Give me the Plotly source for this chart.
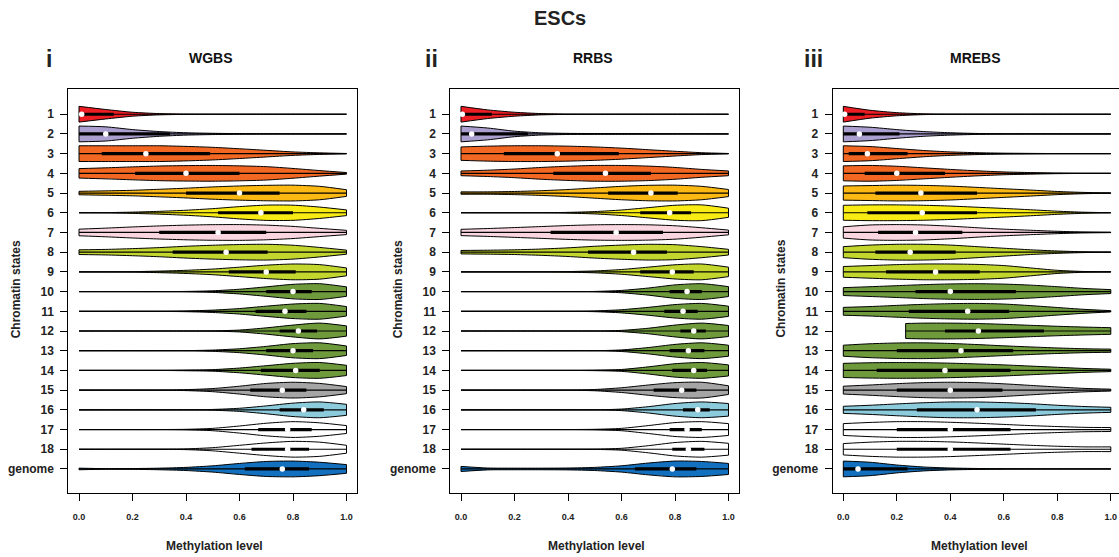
import plotly.graph_objects as go

# ---------------- data ----------------
STATES = [str(i) for i in range(1, 19)] + ["genome"]
COLORS = ["#EE1D23", "#AA9FCF", "#F26722", "#F26722", "#FCB813", "#F8EC14",
          "#F9D6E0", "#C2D62E", "#C2D62E", "#6E9A3C", "#6E9A3C", "#6E9A3C",
          "#6E9A3C", "#6E9A3C", "#A5A5A5", "#8CCBDC", "#FFFFFF", "#FFFFFF",
          "#1270BE"]
# density grid (index 0 is the violin's lower limit, the rest are 0.1 .. 1.0)
GRID = [0.0, 0.1, 0.2, 0.3, 0.4, 0.5, 0.6, 0.7, 0.8, 0.9, 1.0]
XTICKS = [0.0, 0.2, 0.4, 0.6, 0.8, 1.0]

WGBS_DENS = [
    [1.0, 0.6, 0.25, 0.08, 0.02, 0, 0, 0, 0, 0, 0],
    [1.0, 0.9, 0.55, 0.3, 0.15, 0.08, 0.04, 0.01, 0, 0, 0],
    [1.0, 1.0, 1.0, 1.0, 0.92, 0.8, 0.62, 0.42, 0.22, 0.1, 0.02],
    [0.6, 0.7, 0.82, 0.93, 0.98, 1.0, 0.95, 0.85, 0.62, 0.35, 0.1],
    [0.22, 0.28, 0.35, 0.48, 0.62, 0.78, 0.9, 0.98, 1.0, 0.85, 0.42],
    [0.0, 0.02, 0.08, 0.18, 0.32, 0.52, 0.78, 0.97, 0.96, 0.72, 0.36],
    [0.42, 0.55, 0.7, 0.83, 0.93, 0.99, 1.0, 0.93, 0.77, 0.52, 0.27],
    [0.3, 0.35, 0.45, 0.58, 0.75, 0.88, 0.97, 1.0, 0.88, 0.6, 0.26],
    [0.0, 0.0, 0.03, 0.1, 0.2, 0.36, 0.6, 0.85, 1.0, 0.92, 0.5],
    [0, 0, 0, 0, 0.02, 0.1, 0.3, 0.6, 0.92, 1.0, 0.6],
    [0, 0, 0, 0.01, 0.05, 0.15, 0.35, 0.65, 0.92, 1.0, 0.6],
    [0, 0, 0, 0, 0, 0.02, 0.12, 0.4, 0.75, 1.0, 0.65],
    [0, 0, 0, 0, 0.01, 0.08, 0.25, 0.55, 0.9, 1.0, 0.6],
    [0, 0, 0, 0, 0.04, 0.1, 0.3, 0.6, 0.9, 1.0, 0.65],
    [0, 0, 0, 0.01, 0.06, 0.2, 0.5, 0.85, 1.0, 0.85, 0.45],
    [0, 0, 0, 0, 0, 0.05, 0.2, 0.5, 0.85, 1.0, 0.7],
    [0, 0, 0, 0, 0.03, 0.15, 0.45, 0.8, 1.0, 0.85, 0.5],
    [0, 0, 0, 0.01, 0.05, 0.2, 0.5, 0.8, 1.0, 0.9, 0.5],
    [0.1, 0.04, 0.05, 0.1, 0.2, 0.4, 0.7, 0.95, 1.0, 0.85, 0.55],
]
WGBS_LO = [0.0] * 19
WGBS_HI = [1.0] * 19
WGBS_MED = [0.01, 0.10, 0.25, 0.40, 0.60, 0.68, 0.52, 0.55, 0.70, 0.80, 0.77,
            0.82, 0.80, 0.81, 0.76, 0.84, 0.78, 0.78, 0.76]
WGBS_Q1 = [0.0, 0.0, 0.085, 0.21, 0.40, 0.52, 0.30, 0.35, 0.56, 0.70, 0.66,
           0.75, 0.70, 0.68, 0.64, 0.75, 0.67, 0.645, 0.62]
WGBS_Q3 = [0.13, 0.34, 0.49, 0.60, 0.75, 0.80, 0.70, 0.705, 0.81, 0.87, 0.85,
           0.89, 0.875, 0.90, 0.85, 0.915, 0.87, 0.86, 0.86]

RRBS_DENS = [
    [1.0, 0.55, 0.25, 0.08, 0.02, 0, 0, 0, 0, 0, 0],
    [1.0, 0.75, 0.35, 0.14, 0.07, 0.05, 0.04, 0.03, 0.01, 0, 0],
    [0.85, 0.95, 1.0, 1.0, 0.95, 0.85, 0.7, 0.5, 0.3, 0.12, 0.02],
    [0.3, 0.4, 0.55, 0.75, 0.9, 1.0, 1.0, 0.92, 0.75, 0.5, 0.3],
    [0.15, 0.15, 0.2, 0.3, 0.45, 0.65, 0.85, 0.98, 1.0, 0.85, 0.45],
    [0, 0, 0, 0, 0.05, 0.15, 0.35, 0.65, 0.95, 1.0, 0.58],
    [0.4, 0.5, 0.62, 0.75, 0.88, 0.97, 1.0, 0.97, 0.85, 0.6, 0.3],
    [0.22, 0.25, 0.3, 0.4, 0.55, 0.75, 0.9, 1.0, 0.95, 0.7, 0.36],
    [0, 0, 0, 0, 0.04, 0.12, 0.3, 0.6, 0.9, 1.0, 0.6],
    [0, 0, 0, 0, 0, 0.02, 0.15, 0.45, 0.85, 1.0, 0.63],
    [0, 0, 0, 0, 0, 0.05, 0.2, 0.5, 0.85, 1.0, 0.65],
    [0, 0, 0, 0, 0, 0, 0.08, 0.35, 0.75, 1.0, 0.7],
    [0, 0, 0, 0, 0, 0, 0.1, 0.4, 0.8, 1.0, 0.7],
    [0, 0, 0, 0, 0, 0.03, 0.12, 0.45, 0.85, 1.0, 0.7],
    [0, 0, 0, 0, 0.01, 0.08, 0.3, 0.65, 0.95, 1.0, 0.55],
    [0, 0, 0, 0, 0, 0, 0.1, 0.4, 0.8, 1.0, 0.8],
    [0, 0, 0, 0, 0, 0.03, 0.15, 0.5, 0.88, 1.0, 0.75],
    [0, 0, 0, 0, 0, 0.02, 0.12, 0.45, 0.85, 1.0, 0.75],
    [0.32, 0.12, 0.1, 0.1, 0.12, 0.2, 0.4, 0.75, 1.0, 0.95, 0.7],
]
RRBS_LO = [0.0] * 19
RRBS_HI = [1.0] * 19
RRBS_MED = [0.005, 0.04, 0.36, 0.54, 0.71, 0.78, 0.58, 0.645, 0.79, 0.845, 0.83,
            0.87, 0.85, 0.87, 0.825, 0.885, 0.845, 0.85, 0.79]
RRBS_Q1 = [0.0, 0.0, 0.16, 0.345, 0.55, 0.67, 0.335, 0.475, 0.67, 0.78, 0.76,
           0.82, 0.78, 0.79, 0.72, 0.83, 0.78, 0.79, 0.65]
RRBS_Q3 = [0.115, 0.25, 0.59, 0.71, 0.81, 0.86, 0.755, 0.77, 0.87, 0.90, 0.885,
           0.915, 0.91, 0.92, 0.88, 0.93, 0.90, 0.91, 0.88]

MREBS_DENS = [
    [1.0, 0.5, 0.2, 0.05, 0.01, 0, 0, 0, 0, 0, 0],
    [1.0, 0.85, 0.55, 0.3, 0.15, 0.06, 0.02, 0.01, 0, 0, 0],
    [1.0, 0.9, 0.65, 0.4, 0.22, 0.12, 0.06, 0.03, 0.01, 0, 0],
    [0.95, 1.0, 0.9, 0.7, 0.5, 0.32, 0.18, 0.1, 0.04, 0.01, 0],
    [0.9, 0.95, 1.0, 0.97, 0.88, 0.72, 0.55, 0.38, 0.2, 0.08, 0.02],
    [0.95, 1.0, 1.0, 0.95, 0.85, 0.7, 0.55, 0.38, 0.2, 0.07, 0.01],
    [0.72, 0.95, 1.0, 0.95, 0.8, 0.6, 0.42, 0.28, 0.15, 0.06, 0.02],
    [0.7, 0.9, 1.0, 1.0, 0.9, 0.7, 0.5, 0.3, 0.15, 0.05, 0.01],
    [0.68, 0.8, 0.92, 1.0, 1.0, 0.95, 0.8, 0.5, 0.2, 0.05, 0.02],
    [0.5, 0.62, 0.75, 0.88, 0.97, 1.0, 0.95, 0.82, 0.62, 0.4, 0.25],
    [0.5, 0.6, 0.75, 0.88, 0.97, 1.0, 0.92, 0.72, 0.48, 0.25, 0.08],
    [0.95, None, None, 1.0, 1.0, 0.95, 0.85, 0.72, 0.6, 0.5, 0.42],
    [0.7, 0.88, 0.98, 1.0, 0.92, 0.78, 0.62, 0.48, 0.35, 0.25, 0.2],
    [0.9, 0.97, 1.0, 0.98, 0.92, 0.82, 0.7, 0.55, 0.4, 0.25, 0.15],
    [0.5, 0.65, 0.82, 0.95, 1.0, 0.95, 0.8, 0.6, 0.4, 0.22, 0.12],
    [0.45, 0.58, 0.75, 0.9, 1.0, 1.0, 0.92, 0.78, 0.58, 0.42, 0.32],
    [0.75, 0.9, 1.0, 1.0, 0.92, 0.8, 0.65, 0.5, 0.38, 0.28, 0.25],
    [0.72, 0.9, 1.0, 1.0, 0.93, 0.8, 0.65, 0.5, 0.38, 0.3, 0.3],
    [1.0, 0.85, 0.5, 0.25, 0.12, 0.06, 0.03, 0.01, 0, 0, 0],
]
MREBS_LO = [0.0] * 11 + [0.233] + [0.0] * 7
MREBS_HI = [1.0] * 19
MREBS_MED = [0.005, 0.06, 0.09, 0.20, 0.29, 0.295, 0.27, 0.25, 0.345, 0.40, 0.465,
             0.505, 0.44, 0.38, 0.40, 0.50, 0.40, 0.40, 0.055]
MREBS_Q1 = [0.0, 0.0, 0.02, 0.08, 0.12, 0.09, 0.13, 0.12, 0.16, 0.27, 0.245,
            0.38, 0.20, 0.125, 0.20, 0.275, 0.20, 0.20, 0.0]
MREBS_Q3 = [0.08, 0.21, 0.24, 0.38, 0.50, 0.50, 0.445, 0.42, 0.51, 0.645, 0.62,
            0.75, 0.635, 0.625, 0.595, 0.72, 0.625, 0.625, 0.24]

PANELS = [
    ("WGBS", "i", WGBS_DENS, WGBS_LO, WGBS_HI, WGBS_MED, WGBS_Q1, WGBS_Q3),
    ("RRBS", "ii", RRBS_DENS, RRBS_LO, RRBS_HI, RRBS_MED, RRBS_Q1, RRBS_Q3),
    ("MREBS", "iii", MREBS_DENS, MREBS_LO, MREBS_HI, MREBS_MED, MREBS_Q1, MREBS_Q3),
]

# ---------------- geometry / style ----------------
W, H = 1119, 557
FONT = "Liberation Sans, Arial, sans-serif"
ZERO_PX = [79.0, 461.0, 843.3]   # pixel of x = 0 in each panel
UNIT_PX = 267.5                  # pixels per unit of x
BOX_TOP, BOX_BOT = 89.0, 493.0
HALF = 0.4                       # max half width of a violin

def px(x):
    return x / W

def py(y):
    return 1 - y / H

fig = go.Figure()
annotations = []
layout_axes = {}

for p, (name, letter, dens, lo, hi, med, q1, q3) in enumerate(PANELS):
    sfx = "" if p == 0 else str(p + 1)
    xa, ya = "x" + sfx, "y" + sfx
    left_px = ZERO_PX[p] - 0.04 * UNIT_PX
    right_px = min(ZERO_PX[p] + 1.04 * UNIT_PX, W)
    x_lo = -0.04
    x_hi = (right_px - ZERO_PX[p]) / UNIT_PX

    cap_x, cap_y = [], []
    for i in range(len(STATES)):
        r = i + 1
        xs, ds = [], []
        for j, d in enumerate(dens[i]):
            if d is None:
                continue
            xs.append(lo[i] if j == 0 else GRID[j])
            ds.append(d)
        bottom = [r + HALF * d for d in ds]
        top = [r - HALF * d for d in ds]
        lstyle = dict(color="black", width=1, shape="spline", smoothing=0.7)
        fig.add_trace(go.Scatter(x=xs, y=bottom, mode="lines", line=lstyle,
                                 xaxis=xa, yaxis=ya, hoverinfo="skip", showlegend=False))
        fig.add_trace(go.Scatter(x=xs, y=top, mode="lines", line=lstyle,
                                 fill="tonexty", fillcolor=COLORS[i],
                                 xaxis=xa, yaxis=ya, hoverinfo="skip", showlegend=False))
        for xe, de in ((xs[0], ds[0]), (xs[-1], ds[-1])):
            if de > 0:
                cap_x += [xe, xe, None]
                cap_y += [r - HALF * de, r + HALF * de, None]

    fig.add_trace(go.Scatter(x=cap_x, y=cap_y, mode="lines",
                             line=dict(color="black", width=1),
                             xaxis=xa, yaxis=ya, hoverinfo="skip", showlegend=False))
    # whiskers
    wx, wy = [], []
    for i in range(len(STATES)):
        wx += [lo[i], hi[i], None]
        wy += [i + 1, i + 1, None]
    fig.add_trace(go.Scatter(x=wx, y=wy, mode="lines", line=dict(color="black", width=1.2),
                             xaxis=xa, yaxis=ya, hoverinfo="skip", showlegend=False))
    # IQR boxes
    bx, by = [], []
    for i in range(len(STATES)):
        bx += [q1[i], q3[i], None]
        by += [i + 1, i + 1, None]
    fig.add_trace(go.Scatter(x=bx, y=by, mode="lines", line=dict(color="black", width=3.2),
                             xaxis=xa, yaxis=ya, hoverinfo="skip", showlegend=False))
    # medians
    fig.add_trace(go.Scatter(x=med, y=list(range(1, len(STATES) + 1)), mode="markers",
                             marker=dict(color="white", size=5.5, line=dict(width=0)),
                             xaxis=xa, yaxis=ya, hoverinfo="skip", showlegend=False))

    layout_axes["xaxis" + sfx] = dict(
        domain=[px(left_px), px(right_px)], range=[x_lo, x_hi], anchor=ya,
        tickvals=XTICKS, ticktext=["%.1f" % v for v in XTICKS],
        ticks="outside", ticklen=7, tickwidth=1, tickcolor="black",
        showline=True, linecolor="black", linewidth=1, mirror=True,
        showgrid=False, zeroline=False, ticklabelstandoff=8,
        tickfont=dict(family=FONT, size=9, color="#222", weight="bold"))
    layout_axes["yaxis" + sfx] = dict(
        domain=[py(BOX_BOT), py(BOX_TOP)], range=[20.22, -0.28], anchor=xa,
        tickvals=list(range(1, len(STATES) + 1)), ticktext=STATES,
        ticks="outside", ticklen=7, tickwidth=1, tickcolor="black",
        showline=True, linecolor="black", linewidth=1, mirror=(p < 2),
        showgrid=False, zeroline=False, ticklabelstandoff=4,
        tickfont=dict(family=FONT, size=12, color="#222", weight="bold"))

    center_px = ZERO_PX[p] + 0.5 * UNIT_PX
    annotations += [
        dict(text=letter, x=px(left_px - 19), y=py(59.5), xref="paper", yref="paper",
             showarrow=False, xanchor="center", yanchor="middle",
             font=dict(family=FONT, size=23, color="#222", weight="bold")),
        dict(text=name, x=px(center_px - 2), y=py(58.5), xref="paper", yref="paper",
             showarrow=False, xanchor="center", yanchor="middle",
             font=dict(family=FONT, size=14, color="#111", weight="bold")),
        dict(text="Chromatin states", x=px(left_px - 52), y=py(289), xref="paper",
             yref="paper", showarrow=False, textangle=-90, xanchor="center",
             yanchor="middle", font=dict(family=FONT, size=12, color="#222", weight="bold")),
        dict(text="Methylation level", x=px(center_px + 2), y=py(546), xref="paper",
             yref="paper", showarrow=False, xanchor="center", yanchor="middle",
             font=dict(family=FONT, size=12, color="#222", weight="bold")),
    ]

annotations.append(dict(text="ESCs", x=px(560), y=py(18), xref="paper", yref="paper",
                        showarrow=False, xanchor="center", yanchor="middle",
                        font=dict(family=FONT, size=20, color="#222", weight="bold")))

fig.update_layout(width=W, height=H, margin=dict(l=0, r=0, t=0, b=0),
                  paper_bgcolor="white", plot_bgcolor="white",
                  showlegend=False, annotations=annotations, **layout_axes)

fig.write_html("out.html")
